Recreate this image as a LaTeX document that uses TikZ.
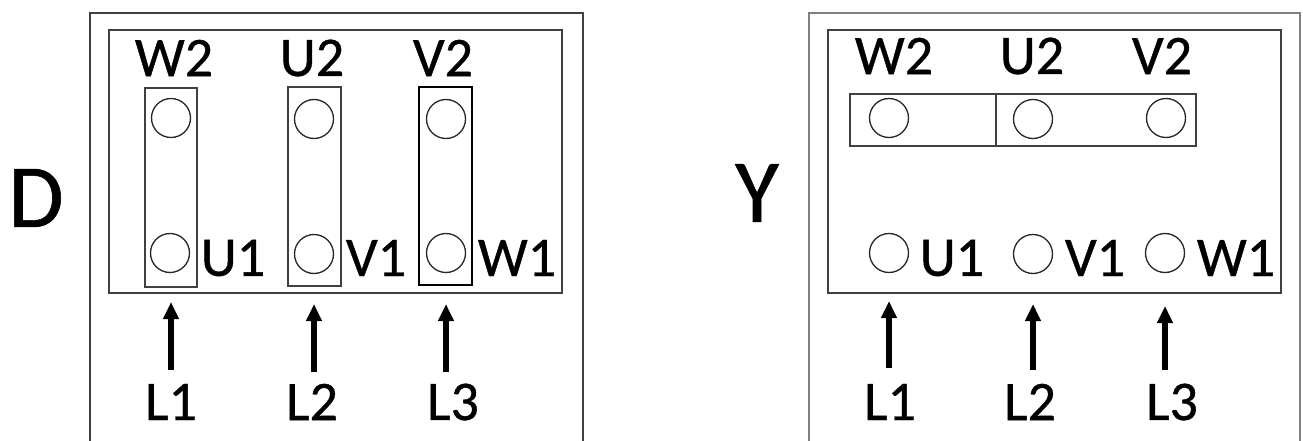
\documentclass[tikz,border=0pt]{standalone}
\usepackage{fontspec}
\setmainfont[FakeBold=0.7]{Carlito}
\newfontfamily\lblfont[FakeBold=0.7]{Carlito}
\usetikzlibrary{arrows.meta}
\begin{document}
\begin{tikzpicture}[x=1pt,y=-1pt,
  frame/.style={draw=black!75,line width=1.8pt},
  frameg/.style={draw=black!50,line width=1.8pt},
  bar/.style={draw=black!75,line width=1.5pt,rectangle,inner sep=0pt},
  term/.style={draw=black!85,line width=1.3pt,circle,inner sep=0pt,minimum size=39pt},
  lbl/.style={font=\lblfont\fontsize{56}{62}\selectfont,inner sep=0pt,anchor=center},
  big/.style={font=\lblfont\fontsize{90}{100}\selectfont,inner sep=0pt,anchor=center},
  arr/.style={line width=5.5pt,-{Triangle[width=15pt,length=17pt]}}]
\useasboundingbox (0,0) rectangle (1303,441);
\fill[white] (0,0) rectangle (1303,441);
% ---------------- left panel (D) ----------------
\node[big] (D) at (36,198) {D};
\draw[frame] (90,445) -- (90,13) -- (583,13) -- (583,445);
\draw[frame] (109,30) rectangle (562,293);
\node[bar,minimum width=52pt,minimum height=199pt] (b1) at (171,187.5) {};
\node[bar,minimum width=53pt,minimum height=199pt] (b2) at (314.5,186.5) {};
\node[bar,draw=black,minimum width=53pt,minimum height=198pt] (b3) at (445.5,186) {};
\node[term] (dW2c) at (171,118) {};
\node[term] (dU2c) at (314,119) {};
\node[term] (dV2c) at (446,119) {};
\node[term] (dU1c) at (170,253) {};
\node[term] (dV1c) at (314,254) {};
\node[term] (dW1c) at (446,253) {};
\node[lbl] (dW2) at (174,58) {W2};
\node[lbl] (dU2) at (312,58) {U2};
\node[lbl] (dV2) at (443,58) {V2};
\node[lbl] (dU1) at (233,258) {U1};
\node[lbl] (dV1) at (376,258) {V1};
\node[lbl] (dW1) at (517,258) {W1};
\node[lbl] (dL1) at (171,402) {L1};
\node[lbl] (dL2) at (312,402) {L2};
\node[lbl] (dL3) at (453,402) {L3};
\coordinate (da1) at (171,302);
\coordinate (da2) at (314,304);
\coordinate (da3) at (446,304);
\draw[arr] (dL1.north |- 0,370) -- (da1);
\draw[arr] (da2 |- 0,372) -- (da2);
\draw[arr] (da3 |- 0,372) -- (da3);
% ---------------- right panel (Y) ----------------
\node[big] (Y) at (757,193) {Y};
\draw[frameg] (809,445) -- (809,13) -- (1300,13) -- (1300,445);
\draw[frame] (828,30) rectangle (1281,293);
\node[bar,minimum width=146pt,minimum height=52pt] (yb1) at (923,120) {};
\node[bar,minimum width=200pt,minimum height=52pt] (yb2) at (1096,120) {};
\node[term] (yW2c) at (889,118) {};
\node[term] (yU2c) at (1033,119) {};
\node[term] (yV2c) at (1166,118) {};
\node[term] (yU1c) at (889,253) {};
\node[term] (yV1c) at (1033,254) {};
\node[term] (yW1c) at (1165,253) {};
\node[lbl] (yW2) at (894,56) {W2};
\node[lbl] (yU2) at (1032,56) {U2};
\node[lbl] (yV2) at (1162,56) {V2};
\node[lbl] (yU1) at (952,258) {U1};
\node[lbl] (yV1) at (1095,258) {V1};
\node[lbl] (yW1) at (1236,258) {W1};
\node[lbl] (yL1) at (890,402) {L1};
\node[lbl] (yL2) at (1030,402) {L2};
\node[lbl] (yL3) at (1172,402) {L3};
\coordinate (ya1) at (889,301);
\coordinate (ya2) at (1033,304);
\coordinate (ya3) at (1165,306);
\draw[arr] (ya1 |- 0,368) -- (ya1);
\draw[arr] (ya2 |- 0,370) -- (ya2);
\draw[arr] (ya3 |- 0,370) -- (ya3);
\end{tikzpicture}
\end{document}
